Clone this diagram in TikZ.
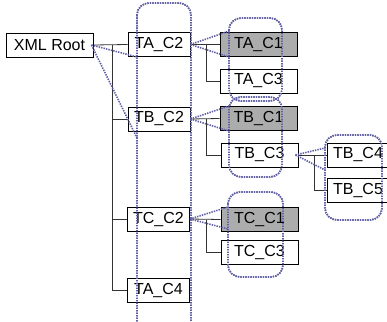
\documentclass[tikz,border=0pt]{standalone}
\usepackage{fontspec}
\setmainfont{Liberation Sans}
\begin{document}
\begin{tikzpicture}[x=1pt,y=-1pt,
  box/.style={draw=black,line width=0.9pt,fill=white,minimum height=24pt,inner sep=0pt,font=\fontsize{16}{18}\selectfont},
  cbox/.style={box,minimum width=62pt},
  lbox/.style={box,minimum width=77pt},
  gbox/.style={lbox,fill=gfill},
  tree/.style={draw=black!80,line width=0.8pt},
  grp/.style={draw=dotc,line width=1.6pt,dash pattern=on 1.4pt off 1.1pt,rounded corners=12pt},
  cone/.style={draw=dotc,line width=1.6pt,dash pattern=on 1.4pt off 1.1pt}
]
\definecolor{gfill}{RGB}{172,172,172}
\definecolor{dotc}{RGB}{96,96,166}
\useasboundingbox (0,0) rectangle (387,321);
\fill[white] (0,0) rectangle (387,321);

% groups (dotted rounded outlines)
\draw[grp] (137,3) rectangle (191,340);
\draw[grp] (229,18) rectangle (282,101);
\draw[grp] (229,97) rectangle (282,177);
\draw[grp] (228,192) rectangle (283,277);
\draw[grp] (325,135) rectangle (382,220);

% tree junction coordinates
\coordinate (j0) at (112,45);
\coordinate (jA) at (206,44.5);
\coordinate (jB) at (206,119);
\coordinate (jC) at (206,219.5);
\coordinate (jD) at (314,155);

% nodes
\node[box,minimum width=87pt] (root) at (49.5,45) {XML Root};
\node[cbox] (tac2) at (159,44.5) {TA\_C2};
\node[cbox] (tbc2) at (159,119) {TB\_C2};
\node[cbox] (tcc2) at (158.5,219) {TC\_C2};
\node[cbox] (tac4) at (158.5,290) {TA\_C4};
\node[gbox] (tac1) at (258.5,44.5) {TA\_C1};
\node[lbox] (tac3) at (258.5,81) {TA\_C3};
\node[gbox] (tbc1) at (258.5,118.5) {TB\_C1};
\node[lbox] (tbc3) at (259.5,155) {TB\_C3};
\node[gbox] (tcc1) at (259.5,219.5) {TC\_C1};
\node[lbox] (tcc3) at (259.5,252) {TC\_C3};
\node[cbox] (tbc4) at (358,155) {TB\_C4};
\node[cbox] (tbc5) at (358,190.5) {TB\_C5};

% tree connectors
\draw[tree] (root.east) -- (tac2.west);
\draw[tree] (j0) |- (tbc2.west);
\draw[tree] (j0) |- (tcc2.west);
\draw[tree] (j0) |- (tac4.west);
\draw[tree] (tac2.east) -- (tac1.west);
\draw[tree] (jA) |- (tac3.west);
\draw[tree] (tbc2.east) -- (tbc1.west);
\draw[tree] (jB) |- (tbc3.west);
\draw[tree] (tcc2.east) -- (tcc1.west);
\draw[tree] (jC) |- (tcc3.west);
\draw[tree] (tbc3.east) -- (tbc4.west);
\draw[tree] (jD) |- (tbc5.west);

% redraw group outlines over boxes
\draw[grp] (137,3) rectangle (191,340);
\draw[grp] (229,18) rectangle (282,101);
\draw[grp] (229,97) rectangle (282,177);
\draw[grp] (228,192) rectangle (283,277);
\draw[grp] (325,135) rectangle (382,220);

% cone pointers
\coordinate (rA) at (137,57);
\coordinate (rB) at (137,138);
\coordinate (aA) at (229,31);
\coordinate (aB) at (229,57);
\coordinate (bA) at (229,106);
\coordinate (bB) at (229,131);
\coordinate (cA) at (228,207);
\coordinate (cB) at (228,229);
\coordinate (dA) at (325,148);
\coordinate (dB) at (325,170);
\draw[cone] ([xshift=-2pt]root.east) -- (rA);
\draw[cone] ([xshift=-2pt]root.east) -- (rB);
\draw[cone] (tac2.east) -- (aA);
\draw[cone] (tac2.east) -- (aB);
\draw[cone] (tbc2.east) -- (bA);
\draw[cone] (tbc2.east) -- (bB);
\draw[cone] (tcc2.east) -- (cA);
\draw[cone] (tcc2.east) -- (cB);
\draw[cone] ([xshift=-3pt]tbc3.east) -- (dA);
\draw[cone] ([xshift=-3pt]tbc3.east) -- (dB);
\end{tikzpicture}
\end{document}
